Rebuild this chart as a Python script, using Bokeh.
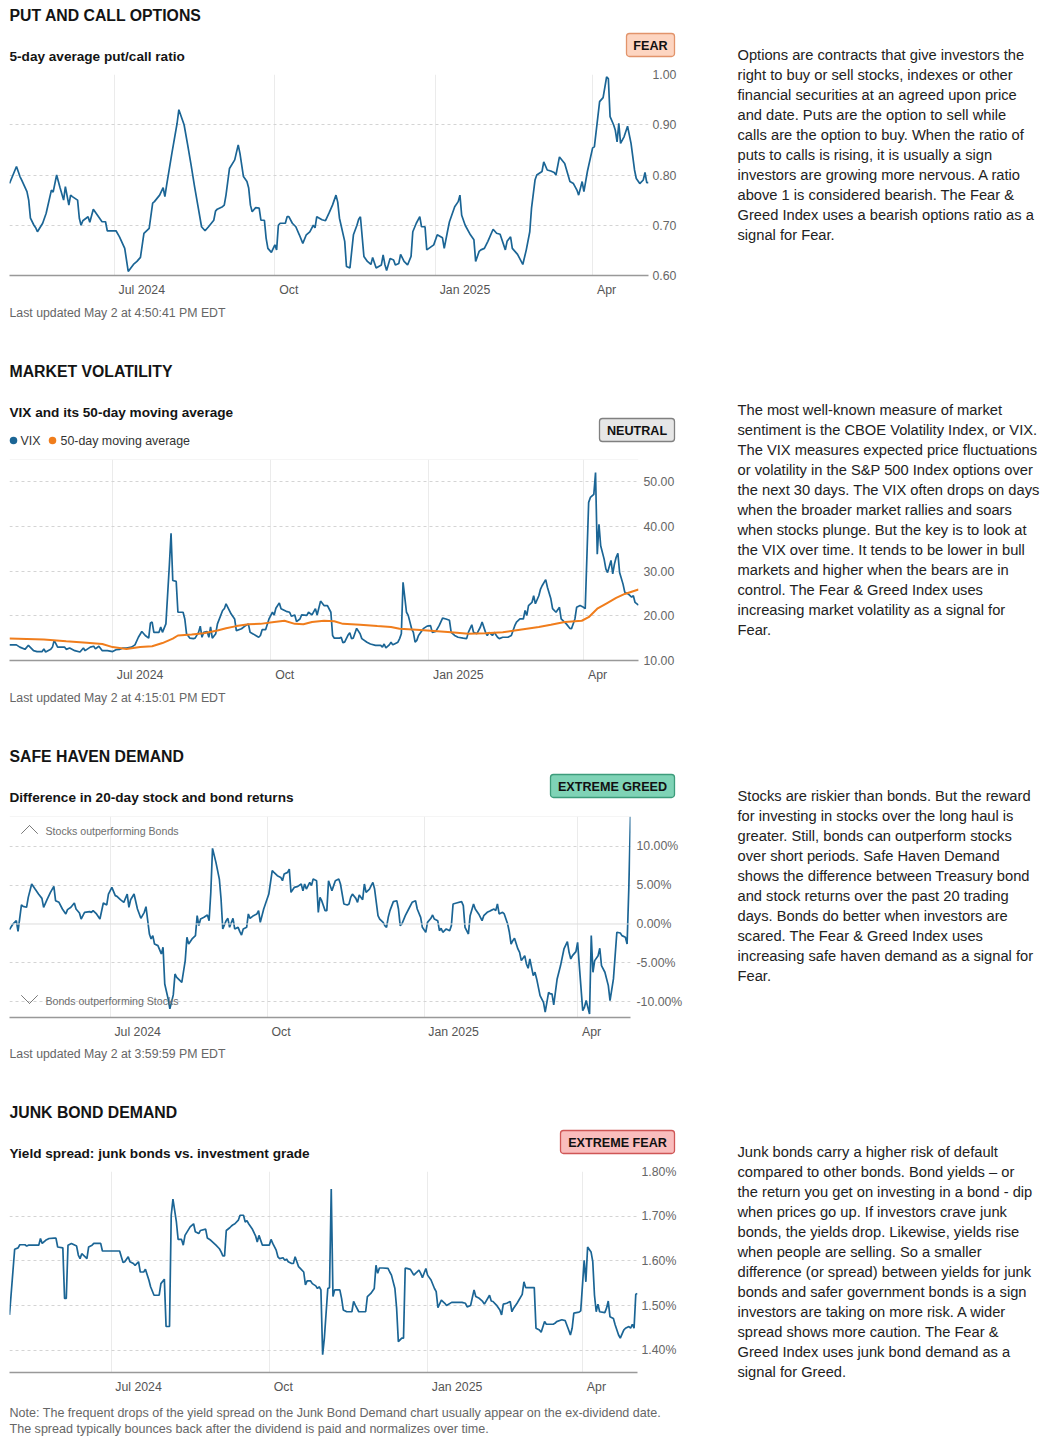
import pandas as pd
from bokeh.plotting import figure
from bokeh.models import (Range1d, FixedTicker, PrintfTickFormatter, Span, Label,
                          BoxAnnotation, PolyAnnotation, Spacer)
from bokeh.layouts import column, row
from bokeh.embed import file_html
from bokeh.resources import INLINE

# ---------------- data (days counted from 2024-05-02) ----------------
BASE = pd.Timestamp("2024-05-02")

pcr_day = [0, 4, 6, 7, 10, 11, 12, 14, 15, 16, 19, 21, 24, 25, 27, 29, 31, 32, 34, 35, 36, 39, 40, 41, 42,
           45, 46, 48, 51, 53, 55, 56, 61, 63, 66, 68, 71, 73, 75, 77, 80, 82, 83, 86, 88, 89, 90, 93, 96, 97,
           100, 102, 104, 106, 108, 110, 112, 114, 117, 118, 119, 122, 123, 124, 126, 129, 131, 132, 134, 136,
           137, 138, 139, 141, 143, 144, 146, 147, 148, 150, 152, 153, 154, 155, 158, 159, 160, 162, 164, 166,
           168, 170, 172, 174, 175, 176, 179, 181, 183, 185, 187, 188, 189, 192, 193, 195, 197, 199, 200, 201,
           203, 205, 207, 208, 210, 213, 214, 215, 216, 218, 220, 221, 223, 224, 226, 228, 230, 231, 233, 235,
           236, 238, 239, 241, 243, 245, 248, 249, 251, 252, 255, 257, 258, 259, 261, 264, 266, 267, 269, 270,
           272, 274, 277, 279, 281, 284, 285, 287, 288, 291, 294, 296, 298, 299, 301, 302, 305, 306, 308, 310,
           312, 313, 315, 318, 321, 323, 325, 326, 328, 329, 331, 334, 335, 338, 340, 342, 343, 344, 346, 347,
           348, 349, 350, 352, 354, 356, 358, 359, 361, 363, 364, 365, 366]
pcr_val = [0.783, 0.817, 0.797, 0.790, 0.767, 0.750, 0.714, 0.700, 0.695, 0.687, 0.704, 0.724, 0.770, 0.766,
           0.800, 0.774, 0.750, 0.777, 0.740, 0.760, 0.757, 0.750, 0.714, 0.700, 0.709, 0.717, 0.706, 0.732,
           0.717, 0.707, 0.707, 0.689, 0.689, 0.677, 0.654, 0.608, 0.622, 0.628, 0.636, 0.684, 0.694, 0.744,
           0.747, 0.760, 0.775, 0.757, 0.780, 0.843, 0.903, 0.930, 0.900, 0.861, 0.820, 0.777, 0.737, 0.697,
           0.689, 0.697, 0.710, 0.728, 0.732, 0.737, 0.740, 0.760, 0.813, 0.830, 0.860, 0.843, 0.797, 0.787,
           0.774, 0.740, 0.727, 0.735, 0.734, 0.710, 0.710, 0.674, 0.654, 0.646, 0.661, 0.651, 0.700, 0.704,
           0.704, 0.717, 0.717, 0.704, 0.697, 0.681, 0.664, 0.681, 0.687, 0.700, 0.695, 0.717, 0.711, 0.709,
           0.724, 0.740, 0.760, 0.746, 0.714, 0.668, 0.618, 0.615, 0.681, 0.700, 0.712, 0.717, 0.638, 0.628,
           0.622, 0.636, 0.615, 0.621, 0.641, 0.622, 0.610, 0.634, 0.631, 0.621, 0.624, 0.642, 0.628, 0.621,
           0.638, 0.687, 0.704, 0.717, 0.697, 0.697, 0.651, 0.656, 0.661, 0.681, 0.675, 0.654, 0.690, 0.707,
           0.737, 0.747, 0.760, 0.720, 0.700, 0.681, 0.671, 0.628, 0.648, 0.651, 0.654, 0.668, 0.692, 0.684,
           0.682, 0.651, 0.668, 0.677, 0.654, 0.642, 0.622, 0.651, 0.687, 0.734, 0.790, 0.800, 0.807, 0.826,
           0.810, 0.808, 0.805, 0.800, 0.836, 0.823, 0.787, 0.783, 0.770, 0.760, 0.787, 0.767, 0.807, 0.854,
           0.856, 0.946, 0.954, 0.995, 0.992, 0.916, 0.900, 0.889, 0.866, 0.903, 0.863, 0.876, 0.897, 0.863,
           0.810, 0.793, 0.783, 0.790, 0.805, 0.785, 0.785]

vix_day = [0, 4, 6, 9, 11, 14, 16, 19, 20, 21, 24, 25, 26, 28, 32, 33, 35, 38, 41, 43, 44, 47, 49, 50, 52,
           54, 57, 60, 62, 64, 66, 68, 71, 73, 75, 77, 79, 81, 82, 83, 84, 87, 88, 89, 91, 93, 94, 95, 97, 98,
           101, 102, 103, 105, 107, 108, 110, 111, 112, 113, 115, 116, 117, 118, 120, 121, 124, 125, 126, 129,
           131, 132, 135, 137, 139, 140, 142, 145, 146, 147, 149, 151, 153, 154, 155, 157, 158, 161, 163, 164,
           166, 167, 169, 170, 173, 174, 176, 178, 179, 181, 183, 185, 187, 188, 189, 192, 193, 194, 195, 197,
           198, 199, 200, 202, 204, 205, 208, 210, 213, 216, 217, 218, 219, 221, 222, 223, 224, 226, 227, 228,
           229, 231, 232, 234, 235, 236, 237, 238, 241, 243, 245, 246, 248, 250, 252, 254, 256, 257, 259, 261,
           264, 266, 267, 269, 270, 272, 274, 275, 277, 278, 279, 281, 282, 284, 285, 287, 290, 292, 294, 295,
           297, 299, 300, 301, 302, 304, 305, 306, 308, 309, 310, 312, 313, 315, 316, 318, 320, 321, 324, 326,
           327, 329, 330, 332, 334, 335, 337, 338, 340, 341, 342, 343, 344, 346, 347, 348, 350, 351, 352, 353,
           354, 355, 357, 358, 360, 362, 363, 364, 366]
vix_val = [13.5, 13.5, 13.0, 12.5, 13.4, 12.2, 12.0, 12.0, 12.6, 11.9, 12.5, 13.0, 14.5, 13.0, 13.0, 12.5,
           12.8, 12.2, 11.9, 12.8, 12.2, 13.0, 13.2, 12.6, 13.2, 12.2, 12.2, 12.0, 12.4, 12.5, 12.8, 12.8,
           13.0, 13.5, 15.2, 16.5, 15.6, 15.0, 18.4, 18.6, 16.3, 16.3, 17.5, 16.3, 18.2, 31.2, 38.5, 27.9,
           27.7, 20.8, 20.8, 19.3, 16.0, 15.0, 14.9, 15.0, 16.3, 17.7, 15.2, 16.3, 16.5, 15.2, 17.5, 15.0,
           16.0, 18.2, 21.2, 21.6, 22.7, 20.4, 19.3, 16.7, 17.1, 17.7, 18.2, 16.3, 15.9, 15.2, 15.6, 16.9,
           16.9, 19.3, 20.8, 20.2, 21.7, 22.9, 21.6, 21.0, 20.8, 19.9, 20.2, 18.7, 19.3, 20.2, 20.1, 20.8,
           20.2, 21.6, 20.2, 23.3, 22.3, 22.3, 20.8, 15.6, 15.0, 15.0, 15.2, 14.0, 14.1, 15.7, 16.2, 14.9,
           15.0, 17.2, 16.0, 14.9, 14.1, 13.7, 13.4, 13.4, 13.0, 13.7, 12.8, 13.5, 14.1, 13.5, 13.7, 14.1,
           14.9, 16.0, 27.5, 20.8, 20.1, 17.1, 16.3, 14.1, 14.5, 15.6, 17.2, 17.7, 17.8, 16.3, 16.5, 17.8,
           19.5, 19.3, 19.0, 16.3, 15.6, 15.2, 15.0, 14.9, 16.3, 18.0, 16.3, 16.0, 17.5, 18.6, 16.3, 15.6,
           16.3, 15.6, 16.3, 15.2, 14.9, 15.2, 15.2, 15.6, 17.8, 18.6, 19.3, 19.3, 21.2, 20.1, 22.3, 23.0,
           24.5, 22.7, 24.5, 26.0, 26.8, 28.1, 26.4, 23.8, 21.6, 20.8, 21.9, 19.3, 18.2, 17.2, 17.1, 19.3,
           21.9, 22.3, 21.9, 21.6, 45.4, 46.5, 47.2, 52.1, 33.8, 40.5, 35.7, 32.7, 30.5, 29.7, 32.4, 29.4,
           31.6, 33.1, 34.0, 29.7, 27.1, 25.3, 24.9, 24.2, 24.5, 23.0, 22.4]

vix_ma_day = [0, 20, 33, 45, 54, 60, 68, 76, 83, 89, 95, 98, 106, 113, 121, 126, 132, 139, 146, 154, 160,
              166, 171, 176, 183, 189, 194, 204, 214, 222, 227, 237, 247, 257, 267, 277, 287, 297, 308, 315,
              323, 333, 337, 342, 347, 353, 358, 366]
vix_ma_val = [14.9, 14.7, 14.3, 14.0, 13.7, 13.0, 12.6, 13.0, 13.2, 13.9, 14.9, 15.6, 15.8, 16.1, 16.7, 17.2,
              17.7, 18.1, 18.2, 18.6, 18.9, 18.2, 18.1, 18.6, 18.9, 18.8, 18.2, 18.0, 17.7, 17.5, 17.1, 16.9,
              16.6, 16.3, 16.0, 16.1, 16.3, 16.9, 17.5, 18.0, 18.6, 18.9, 19.7, 21.6, 22.7, 24.0, 24.9, 25.9]

shd_day = [1, 3, 5, 6, 8, 9, 11, 12, 14, 16, 18, 20, 21, 23, 25, 27, 28, 30, 32, 34, 35, 37, 39, 40, 42,
           43, 45, 48, 49, 50, 52, 54, 56, 58, 59, 61, 63, 64, 66, 68, 70, 71, 72, 74, 76, 78, 80, 81, 83,
           84, 85, 86, 88, 90, 91, 92, 94, 95, 97, 98, 99, 101, 102, 104, 105, 106, 108, 110, 111, 112, 113,
           115, 117, 118, 119, 120, 122, 124, 125, 126, 128, 129, 130, 132, 133, 135, 136, 137, 138, 140, 141,
           142, 144, 146, 147, 148, 150, 151, 152, 153, 155, 156, 158, 160, 161, 162, 164, 165, 166, 168, 170,
           172, 173, 174, 175, 177, 178, 179, 181, 182, 183, 184, 186, 187, 188, 190, 191, 192, 194, 195, 197,
           199, 200, 201, 202, 204, 205, 206, 208, 209, 210, 212, 213, 214, 215, 217, 218, 220, 221, 222, 223,
           224, 226, 228, 229, 230, 231, 233, 235, 237, 239, 240, 242, 243, 245, 246, 248, 249, 250, 252, 253,
           254, 255, 257, 259, 260, 261, 263, 266, 267, 268, 270, 271, 273, 274, 276, 278, 279, 281, 283, 285,
           286, 287, 288, 290, 291, 293, 294, 295, 296, 297, 299, 300, 301, 303, 304, 305, 306, 308, 309, 310,
           312, 314, 315, 317, 318, 319, 320, 322, 324, 326, 328, 329, 330, 331, 333, 334, 335, 337, 338, 339,
           341, 342, 343, 344, 346, 347, 348, 350, 352, 353, 355, 356, 357, 359, 360, 362, 363, 364, 365]
shd_val = [-0.73, 0.0, 0.43, -0.94, 2.45, 2.27, 2.15, 3.43, 5.15, 4.5, 3.86, 3.3, 2.15, 3.13, 4.08, 4.85,
           3.0, 2.79, 1.93, 1.29, 1.85, 2.15, 2.7, 1.93, 1.42, 0.64, 1.5, 1.59, 1.5, 1.72, 1.29, 0.64, 2.7,
           2.45, 3.86, 4.72, 3.65, 3.56, 3.13, 2.79, 3.86, 2.15, 3.13, 3.86, 1.93, 0.73, 1.5, 2.23, -1.29,
           -1.93, -1.5, -2.58, -2.79, -3.86, -3.0, -7.73, -9.66, -10.94, -9.14, -6.44, -6.87, -7.3, -7.51,
           -4.72, -1.72, -2.58, -1.93, -1.5, 1.07, -0.21, 0.64, 0.86, 1.16, 0.43, 4.08, 9.74, 7.94, 5.79,
           3.22, -0.64, 0.43, 0.73, -0.43, 0.73, -0.64, -0.43, -0.99, -1.42, -0.64, -0.43, 1.29, 0.73, 1.07,
           1.29, 1.72, 0.21, 1.93, 2.58, 3.22, 3.86, 6.87, 6.65, 6.22, 6.0, 5.58, 6.44, 6.65, 7.08, 4.08,
           4.72, 4.85, 5.15, 4.29, 5.15, 4.5, 5.36, 4.94, 5.79, 5.58, 1.5, 3.43, 3.0, 1.72, 1.72, 5.58, 4.29,
           4.94, 5.58, 5.79, 5.15, 2.58, 2.45, 2.58, 3.43, 3.86, 3.3, 2.79, 3.73, 3.13, 5.15, 4.08, 4.5, 4.94,
           5.36, 4.5, 1.07, 0.64, 0.21, -0.21, -0.43, 0.86, 1.72, 2.88, 3.0, 1.93, -0.21, 0.0, 1.07, 1.93,
           2.79, 3.0, 1.93, 0.86, -0.43, -1.07, 0.21, 0.73, 1.16, 0.64, 0.43, -0.86, -0.56, -1.07, -0.64,
           -0.86, -0.21, 2.58, 2.7, 2.88, 2.36, -0.43, -1.29, 1.07, 2.58, 1.93, 1.29, 0.43, 1.07, 1.5, 1.72,
           1.93, 1.72, 2.58, 1.29, 1.5, 1.29, 0.0, -1.07, -2.58, -2.15, -1.85, -3.22, -3.65, -4.72, -4.08,
           -5.15, -5.71, -4.51, -6.65, -6.22, -7.08, -9.23, -10.09, -11.37, -8.8, -9.01, -9.01, -10.43, -7.08,
           -5.36, -3.22, -2.27, -3.65, -4.51, -4.08, -3.56, -2.36, -5.36, -11.16, -10.73, -9.87, -11.59, -1.5,
           -6.22, -4.72, -4.08, -3.13, -5.36, -6.22, -7.94, -9.87, -7.08, -4.08, -1.07, -1.16, -1.5, -1.72,
           -2.58, 4.5, 13.85]

junk_day = [1, 4, 6, 7, 10, 11, 12, 18, 19, 20, 22, 24, 27, 28, 29, 32, 33, 34, 35, 37, 40, 41, 42, 43, 45,
            46, 47, 49, 50, 54, 55, 65, 66, 67, 68, 70, 71, 73, 74, 76, 77, 79, 80, 82, 83, 85, 88, 89, 91, 92,
            94, 95, 96, 98, 99, 101, 102, 103, 106, 108, 109, 111, 112, 115, 116, 118, 121, 123, 124, 125, 126,
            127, 129, 130, 131, 132, 134, 135, 137, 138, 139, 140, 142, 144, 145, 146, 148, 151, 152, 153, 154,
            156, 157, 158, 160, 161, 162, 163, 165, 166, 167, 169, 170, 172, 173, 174, 176, 177, 179, 180, 181,
            182, 183, 184, 186, 187, 188, 189, 190, 193, 194, 195, 197, 200, 201, 202, 204, 208, 209, 211, 213,
            214, 215, 216, 218, 221, 222, 223, 225, 226, 227, 229, 230, 231, 232, 234, 236, 237, 239, 240, 241,
            243, 244, 246, 248, 249, 250, 252, 254, 255, 258, 264, 266, 267, 269, 271, 272, 274, 276, 277, 280,
            281, 282, 284, 286, 287, 288, 290, 292, 293, 294, 296, 299, 300, 301, 306, 307, 309, 310, 312, 313,
            317, 318, 319, 322, 324, 326, 327, 328, 329, 332, 333, 335, 336, 337, 339, 340, 341, 342, 343, 344,
            347, 348, 349, 350, 352, 353, 355, 356, 358, 359, 361, 362, 363, 364, 365, 366]
junk_val = [1.479, 1.626, 1.629, 1.636, 1.636, 1.633, 1.635, 1.635, 1.650, 1.639, 1.646, 1.650, 1.651, 1.651,
            1.631, 1.629, 1.516, 1.516, 1.635, 1.639, 1.633, 1.613, 1.605, 1.616, 1.609, 1.605, 1.631, 1.635,
            1.639, 1.639, 1.622, 1.622, 1.609, 1.596, 1.598, 1.609, 1.598, 1.594, 1.590, 1.598, 1.575, 1.575,
            1.581, 1.557, 1.542, 1.523, 1.523, 1.549, 1.559, 1.453, 1.453, 1.702, 1.738, 1.687, 1.648, 1.648,
            1.635, 1.657, 1.676, 1.683, 1.665, 1.661, 1.668, 1.671, 1.651, 1.646, 1.635, 1.627, 1.620, 1.611,
            1.611, 1.668, 1.674, 1.678, 1.681, 1.683, 1.691, 1.702, 1.702, 1.687, 1.690, 1.683, 1.672, 1.656,
            1.642, 1.657, 1.635, 1.635, 1.635, 1.648, 1.639, 1.624, 1.609, 1.605, 1.607, 1.601, 1.604, 1.598,
            1.594, 1.594, 1.609, 1.587, 1.583, 1.575, 1.546, 1.555, 1.555, 1.549, 1.544, 1.538, 1.542, 1.535,
            1.390, 1.427, 1.538, 1.540, 1.761, 1.520, 1.535, 1.535, 1.516, 1.490, 1.486, 1.486, 1.509, 1.501,
            1.486, 1.486, 1.520, 1.527, 1.538, 1.590, 1.572, 1.584, 1.584, 1.583, 1.575, 1.568, 1.538, 1.494,
            1.419, 1.427, 1.427, 1.584, 1.583, 1.581, 1.568, 1.572, 1.579, 1.572, 1.562, 1.583, 1.568, 1.557,
            1.538, 1.531, 1.495, 1.512, 1.505, 1.500, 1.507, 1.507, 1.505, 1.497, 1.500, 1.535, 1.520, 1.516,
            1.509, 1.503, 1.523, 1.510, 1.509, 1.501, 1.490, 1.479, 1.503, 1.505, 1.509, 1.486, 1.494, 1.505,
            1.525, 1.553, 1.540, 1.540, 1.449, 1.445, 1.440, 1.464, 1.458, 1.458, 1.460, 1.464, 1.468, 1.466,
            1.445, 1.434, 1.449, 1.483, 1.485, 1.488, 1.601, 1.553, 1.631, 1.620, 1.598, 1.523, 1.486, 1.503,
            1.486, 1.484, 1.494, 1.510, 1.475, 1.471, 1.457, 1.434, 1.427, 1.445, 1.449, 1.453, 1.449, 1.458,
            1.449, 1.525, 1.527]

month_starts = ["2024-07-01", "2024-10-01", "2025-01-01", "2025-04-01"]
month_labels = ["Jul 2024", "Oct", "Jan 2025", "Apr"]

pcr_ticks = [0.6, 0.7, 0.8, 0.9, 1.0]
vix_ticks = [10, 20, 30, 40, 50]
shd_ticks = [-10, -5, 0, 5, 10]
junk_ticks = [1.4, 1.5, 1.6, 1.7, 1.8]

text_options = [
    "Options are contracts that give investors the",
    "right to buy or sell stocks, indexes or other",
    "financial securities at an agreed upon price",
    "and date. Puts are the option to sell while",
    "calls are the option to buy. When the ratio of",
    "puts to calls is rising, it is usually a sign",
    "investors are growing more nervous. A ratio",
    "above 1 is considered bearish. The Fear &",
    "Greed Index uses a bearish options ratio as a",
    "signal for Fear.",
]
text_vix = [
    "The most well-known measure of market",
    "sentiment is the CBOE Volatility Index, or VIX.",
    "The VIX measures expected price fluctuations",
    "or volatility in the S&P 500 Index options over",
    "the next 30 days. The VIX often drops on days",
    "when the broader market rallies and soars",
    "when stocks plunge. But the key is to look at",
    "the VIX over time. It tends to be lower in bull",
    "markets and higher when the bears are in",
    "control. The Fear & Greed Index uses",
    "increasing market volatility as a signal for",
    "Fear.",
]
text_safe = [
    "Stocks are riskier than bonds. But the reward",
    "for investing in stocks over the long haul is",
    "greater. Still, bonds can outperform stocks",
    "over short periods. Safe Haven Demand",
    "shows the difference between Treasury bond",
    "and stock returns over the past 20 trading",
    "days. Bonds do better when investors are",
    "scared. The Fear & Greed Index uses",
    "increasing safe haven demand as a signal for",
    "Fear.",
]
text_junk = [
    "Junk bonds carry a higher risk of default",
    "compared to other bonds. Bond yields \u2013 or",
    "the return you get on investing in a bond - dip",
    "when prices go up. If investors crave junk",
    "bonds, the yields drop. Likewise, yields rise",
    "when people are selling. So a smaller",
    "difference (or spread) between yields for junk",
    "bonds and safer government bonds is a sign",
    "investors are taking on more risk. A wider",
    "spread shows more caution. The Fear &",
    "Greed Index uses junk bond demand as a",
    "signal for Greed.",
]

# ---------------- styling ----------------
FONT = "Liberation Sans"
BLUE = "#1b6595"
ORANGE = "#f07d1c"
LEFT_W = 682
RIGHT_W = 355
CHART_H = 235
LABEL_CENTER_PX = [27.5, 14.0, 29.5, 14.0]   # tick-label centre to the right of each month line


def to_dates(days):
    return BASE + pd.to_timedelta(days, unit="D")


def ms(ts):
    return float(pd.Timestamp(ts).value / 1e6)


grid_ms = [ms(m) for m in month_starts]


def canvas(w, h):
    p = figure(width=w, height=h, x_range=Range1d(0, w), y_range=Range1d(0, h),
               x_axis_location=None, y_axis_location=None, min_border=0,
               toolbar_location=None, output_backend="svg", frame_align=False)
    p.grid.grid_line_color = None
    p.outline_line_color = None
    p.background_fill_color = "white"
    p.border_fill_color = "white"
    return p


def txt(p, h, x, y, s, size, color="#1a1a1a", bold=False, align="left"):
    p.add_layout(Label(x=x, y=h - y, text=s, text_font=FONT, text_font_size=f"{size}px",
                       text_font_style="bold" if bold else "normal", text_color=color,
                       text_align=align, text_baseline="middle"))


def badge(p, h, x0, x1, y0, y1, s, fill, line):
    p.add_layout(BoxAnnotation(left=x0, right=x1, bottom=h - y1, top=h - y0, fill_color=fill,
                               fill_alpha=1, line_color=line, line_alpha=1, line_width=1.3,
                               border_radius=3))
    txt(p, h, (x0 + x1) / 2, (y0 + y1) / 2 + 0.5, s, 12.6, color="#111111", bold=True, align="center")


def header(h, title, subtitle, badge_args):
    p = canvas(LEFT_W, h)
    txt(p, h, 1, 7, title, 15.8, color="#141414", bold=True)
    txt(p, h, 1, 48, subtitle, 13.6, color="#141414", bold=True)
    badge(p, h, *badge_args)
    return p


def text_block(h, lines, y0):
    p = canvas(RIGHT_W, h)
    for i, s in enumerate(lines):
        txt(p, h, 47, y0 + 20 * i, s, 14.7, color="#222222")
    return p


def chart(frame_w, x_start, x_end, y_lo, y_hi, ticks, fmt, standoff, grid_ticks=None):
    p = figure(width=LEFT_W, height=CHART_H, x_axis_type="datetime", y_axis_location="right",
               x_range=Range1d(x_start, x_end), y_range=Range1d(y_lo, y_hi),
               min_border_left=1, min_border_right=LEFT_W - 1 - frame_w,
               min_border_top=10, min_border_bottom=24, frame_align=False,
               toolbar_location=None, output_backend="svg")
    p.outline_line_color = None
    ms_per_px = (ms(x_end) - ms(x_start)) / frame_w
    label_ms = [g + off * ms_per_px for g, off in zip(grid_ms, LABEL_CENTER_PX)]
    xa = p.xaxis[0]
    xa.ticker = FixedTicker(ticks=label_ms)
    xa.major_label_overrides = {t: l for t, l in zip(label_ms, month_labels)}
    xa.major_tick_line_color = None
    xa.major_tick_out = 0
    xa.major_tick_in = 0
    xa.minor_tick_line_color = None
    xa.axis_line_color = "#999999"
    xa.axis_line_width = 1.5
    xa.major_label_standoff = 7
    xa.major_label_text_font = FONT
    xa.major_label_text_font_size = "12.3px"
    xa.major_label_text_color = "#555555"
    ya = p.yaxis[0]
    ya.ticker = FixedTicker(ticks=ticks)
    ya.formatter = PrintfTickFormatter(format=fmt)
    ya.axis_line_color = None
    ya.major_tick_line_color = None
    ya.major_tick_out = 0
    ya.major_tick_in = 0
    ya.minor_tick_line_color = None
    ya.major_label_standoff = standoff
    ya.major_label_text_font = FONT
    ya.major_label_text_font_size = "12.3px"
    ya.major_label_text_color = "#666666"
    p.xgrid.ticker = FixedTicker(ticks=grid_ms)
    p.xgrid.grid_line_color = "#ebebeb"
    p.ygrid.ticker = FixedTicker(ticks=grid_ticks if grid_ticks is not None else ticks)
    p.ygrid.grid_line_color = "#d4d4d4"
    p.ygrid.grid_line_dash = "3 3"
    return p


def footer(h, lines, ys, size=12.3):
    p = canvas(LEFT_W, h)
    for s, y in zip(lines, ys):
        txt(p, h, 1, y, s, size, color="#666666")
    return p


# ---------------- panel 1: put/call ----------------
pcr_x = to_dates(pcr_day)
h1 = header(56, "PUT AND CALL OPTIONS", "5-day average put/call ratio",
            (618, 666, 25, 48, "FEAR", "#fdd5c1", "#e2946b"))
c1 = chart(639, pcr_x.min(), pcr_x.max(), 0.60, 1.00, pcr_ticks, "%.2f", 4)
c1.line(pcr_x, pcr_val, line_color=BLUE, line_width=1.7)
f1 = footer(65, ["Last updated May 2 at 4:50:41 PM EDT"], [13])
t1 = text_block(356, text_options, 46)

# ---------------- panel 2: VIX ----------------
vix_x = to_dates(vix_day)
ma_x = to_dates(vix_ma_day)
h2 = header(85, "MARKET VOLATILITY", "VIX and its 50-day moving average",
            (591, 666, 54, 77, "NEUTRAL", "#e6e6e6", "#808080"))
h2.scatter(x=[5, 44], y=[85 - 76, 85 - 76], size=7.5, fill_color=[BLUE, ORANGE], line_color=None)
txt(h2, 85, 12, 76, "VIX", 12.4, color="#333333")
txt(h2, 85, 52, 76, "50-day moving average", 12.4, color="#333333")
c2 = chart(629, min(vix_x.min(), ma_x.min()), max(vix_x.max(), ma_x.max()), 10, 55, vix_ticks, "%.2f", 5)
c2.add_layout(Span(location=55, dimension="width", line_color="#ebebeb", line_width=1))
c2.line(vix_x, vix_val, line_color=BLUE, line_width=1.7)
c2.line(ma_x, vix_ma_val, line_color=ORANGE, line_width=2)
f2 = footer(65, ["Last updated May 2 at 4:15:01 PM EDT"], [13])
t2 = text_block(385, text_vix, 45)

# ---------------- panel 3: safe haven ----------------
shd_x = to_dates(shd_day)
h3 = header(57, "SAFE HAVEN DEMAND", "Difference in 20-day stock and bond returns",
            (542, 666, 25, 48, "EXTREME GREED", "#7fd3b6", "#3d9c7b"))
c3 = chart(621, shd_x.min(), shd_x.max(), -12.05, 13.85, shd_ticks, "%.2f%%", 6,
           grid_ticks=[-10, -5, 5, 10])
c3.add_layout(Span(location=0, dimension="width", line_color="#dddddd", line_width=1))
c3.add_layout(Span(location=13.85, dimension="width", line_color="#ebebeb", line_width=1))
for xs, ys in (([12, 20, 28, 20], [184, 192, 184, 192]), ([12, 20, 28, 20], [22, 14, 22, 14])):
    c3.add_layout(PolyAnnotation(xs=xs, ys=ys, xs_units="screen", ys_units="screen",
                                 fill_alpha=0, line_color="#7a7a7a", line_alpha=1, line_width=1))
c3.add_layout(Label(x=36, y=186.5, x_units="screen", y_units="screen", text="Stocks outperforming Bonds",
                    text_font=FONT, text_font_size="10.6px", text_color="#6e6e6e", text_baseline="middle"))
c3.add_layout(Label(x=36, y=16.5, x_units="screen", y_units="screen", text="Bonds outperforming Stocks",
                    text_font=FONT, text_font_size="10.6px", text_color="#6e6e6e", text_baseline="middle"))
c3.line(shd_x, shd_val, line_color=BLUE, line_width=1.7)
f3 = footer(64, ["Last updated May 2 at 3:59:59 PM EDT"], [12])
t3 = text_block(356, text_safe, 46)

# ---------------- panel 4: junk bonds ----------------
junk_x = to_dates(junk_day)
h4 = header(56, "JUNK BOND DEMAND", "Yield spread: junk bonds vs. investment grade",
            (552, 666, 25, 48, "EXTREME FEAR", "#f9bdbd", "#cf5656"))
c4 = chart(628, junk_x.min(), junk_x.max(), 1.35, 1.80, junk_ticks, "%.2f%%", 4)
c4.line(junk_x, junk_val, line_color=BLUE, line_width=1.7)
f4 = footer(40, ["Note: The frequent drops of the yield spread on the Junk Bond Demand chart usually appear on the ex-dividend date.",
                 "The spread typically bounces back after the dividend is paid and normalizes over time."], [16, 32],
            size=12.55)
t4 = text_block(331, text_junk, 46)

panels = column(
    row(column(h1, c1, f1), t1),
    row(column(h2, c2, f2), t2),
    row(column(h3, c3, f3), t3),
    row(column(h4, c4, f4), t4),
)
page = row(Spacer(width=8, height=10), column(Spacer(width=10, height=8), panels))

open("out.html", "w").write(file_html(page, INLINE))
